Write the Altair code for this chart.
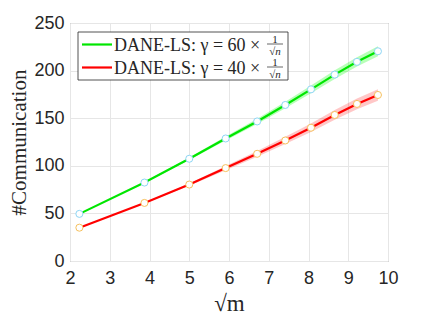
import altair as alt
import pandas as pd
import numpy as np

m_values = [5, 15, 25, 35, 45, 55, 65, 75, 85, 95]
green_y = [49.5, 82.4, 107.4, 128.7, 146.6, 163.9, 180.3, 195.8, 209.2, 220.3]
red_y = [35.0, 61.0, 80.3, 97.6, 112.6, 126.6, 140.0, 153.4, 165.0, 174.4]
green_band = [0.0, 0.5, 1.2, 2.0, 2.8, 3.4, 4.0, 4.5, 4.9, 5.2]
red_band = [0.0, 0.5, 1.2, 2.2, 3.0, 3.8, 4.5, 5.1, 5.6, 6.0]
series_names = ["DANE-LS: γ = 60 ×", "DANE-LS: γ = 40 ×"]
x_ticks = [2, 3, 4, 5, 6, 7, 8, 9, 10]
y_ticks = [0, 50, 100, 150, 200, 250]

rows = []
for name, yv, bs in [(series_names[0], green_y, green_band), (series_names[1], red_y, red_band)]:
    for m, y, b in zip(m_values, yv, bs):
        rows.append({"s": name, "x": float(np.sqrt(m)), "y": y, "lo": y - b, "hi": y + b})
df = pd.DataFrame(rows)

line_colors = ["#00e600", "#ff0000"]
band_colors = ["#00ff00", "#ff0000"]
band_opacity = [0.28, 0.22]
marker_colors = ["#8ed6f5", "#f6c15e"]

W, H = 318, 238
xs = alt.X("x:Q", scale=alt.Scale(domain=[2, 10], nice=False),
           axis=alt.Axis(values=x_ticks, title="√m", grid=True, ticks=False, labelFlush=False,
                         labelFont="Liberation Sans", labelFontSize=18, labelColor="#262626",
                         labelPadding=8, titleFont="Liberation Serif", titleFontSize=23,
                         titleFontWeight="normal", titleColor="#262626", titlePadding=5,
                         domain=False, gridColor="#e6e6e6"))
ys = alt.Y("y:Q", scale=alt.Scale(domain=[0, 250], nice=False),
           axis=alt.Axis(values=y_ticks, title="#Communication", grid=True, ticks=False, labelFlush=False,
                         labelFont="Liberation Sans", labelFontSize=18, labelColor="#262626",
                         labelPadding=6, titleFont="Liberation Serif", titleFontSize=21,
                         titleFontWeight="normal", titleColor="#262626", titlePadding=4,
                         domain=False, gridColor="#e6e6e6"))

layers = []
for i, name in enumerate(series_names):
    d = df[df.s == name]
    band = alt.Chart(d).mark_area(color=band_colors[i], opacity=band_opacity[i]).encode(
        x=xs, y=alt.Y("lo:Q", scale=alt.Scale(domain=[0, 250], nice=False)), y2="hi:Q")
    line = alt.Chart(d).mark_line(color=line_colors[i], strokeWidth=2.2).encode(x=xs, y=ys)
    pts = alt.Chart(d).mark_point(shape="circle", filled=True, fill="white",
                                  stroke=marker_colors[i], strokeWidth=1, size=50, opacity=1).encode(x=xs, y=ys)
    layers += [band, line, pts]

# manual legend
one = alt.Data(values=[{"k": 1}])
box = alt.Chart(one).mark_rect(fill="white", stroke="#262626", strokeWidth=0.8).encode(
    x=alt.value(8), x2=alt.value(218), y=alt.value(9), y2=alt.value(57))
layers.append(box)
for i, name in enumerate(series_names):
    yp = [21.5, 44.5][i]
    layers.append(alt.Chart(one).mark_rule(color=line_colors[i], strokeWidth=2.2).encode(
        x=alt.value(12), x2=alt.value(42), y=alt.value(yp)))
    layers.append(alt.Chart(one).mark_text(text=name, align="left", baseline="middle",
                                           font="Liberation Serif", fontSize=18, color="#262626").encode(
        x=alt.value(44), y=alt.value(yp + 1)))
    layers.append(alt.Chart(one).mark_text(text="1", align="center", baseline="alphabetic",
                                           font="Liberation Serif", fontSize=11, color="#262626").encode(
        x=alt.value(205), y=alt.value(yp - 2)))
    layers.append(alt.Chart(one).mark_rule(color="#262626", strokeWidth=0.7).encode(
        x=alt.value(197), x2=alt.value(213), y=alt.value(yp - 0.5)))
    layers.append(alt.Chart(one).mark_text(text="√n", align="center", baseline="top",
                                           font="Liberation Serif", fontSize=11, fontStyle="italic",
                                           color="#262626").encode(
        x=alt.value(205), y=alt.value(yp + 1)))

chart = alt.layer(*layers).properties(
    width=W, height=H,
    autosize=alt.AutoSizeParams(type="none"),
    padding={"left": 62, "top": 15, "right": 33, "bottom": 53},
).configure_view(stroke="#808080", strokeWidth=1)

chart.save("out.html", embed_options={"renderer": "svg", "actions": False})
